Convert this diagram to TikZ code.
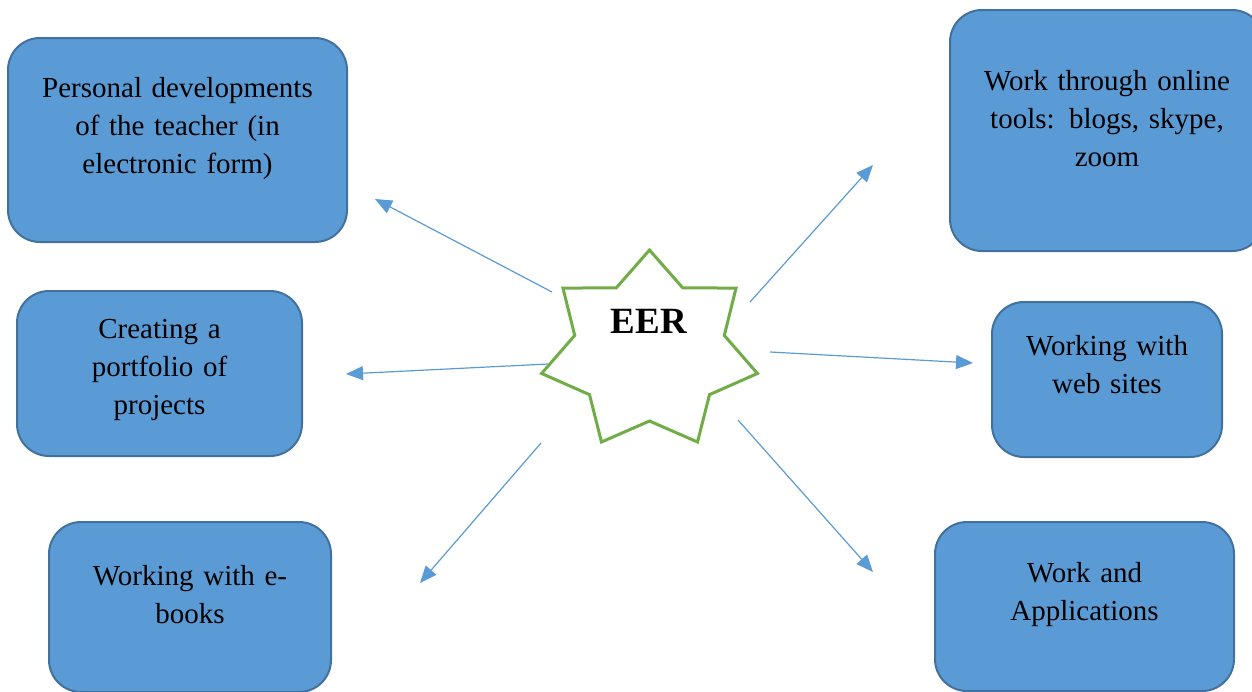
\documentclass[tikz,border=0pt]{standalone}
\usepackage{fontspec}
\setmainfont{Liberation Serif}
\usetikzlibrary{shapes.geometric,arrows.meta,calc}

\definecolor{boxfill}{HTML}{5B9BD5}
\definecolor{boxedge}{HTML}{41719C}
\definecolor{linkblue}{HTML}{5B9BD5}
\definecolor{stargreen}{HTML}{70AD47}

\tikzset{
  topic/.style={draw=boxedge, fill=boxfill, line width=1pt, rounded corners=16pt,
    inner sep=0pt, outer sep=0pt},
  topictext/.style={anchor=base, align=center, text width=170pt, inner sep=0pt,
    font=\fontsize{14.5}{19}\selectfont},
  hubstar/.style={shape=star, star points=7, star point ratio=1.443, minimum size=101pt,
    draw=stargreen, line width=1.5pt, fill=white, inner sep=0pt, xscale=1.096},
  link/.style={draw=linkblue, line width=0.6pt, -{Triangle[length=8.5pt,width=7pt]}}
}

\begin{document}
\begin{tikzpicture}[x=0.5pt, y=-0.5pt]
  \clip (0,0) rectangle (1252,691);
  \useasboundingbox (0,0) rectangle (1252,691);
  %left column
  \node[topic, minimum width=169.5pt, minimum height=102pt] (dev) at (177.5,140) {};
  \node[topic, minimum width=142.5pt, minimum height=82.5pt] (port) at (159.5,373.5) {};
  \node[topic, minimum width=141pt, minimum height=85pt] (ebook) at (190,607) {};
  %right column
  \node[topic, minimum width=157pt, minimum height=120.5pt] (online) at (1107,130.5) {};
  \node[topic, minimum width=115pt, minimum height=77.5pt] (web) at (1107,379.5) {};
  \node[topic, minimum width=149.5pt, minimum height=84.5pt] (apps) at (1084.5,606.5) {};
  %centre
  \node[hubstar] (hub) at (649.5,351) {};
  \node[anchor=base, inner sep=0pt, font=\bfseries\fontsize{18.5}{22}\selectfont] (eer) at (649,333) {EER};
  %texts
  \node[topictext] (devtext) at ($(dev.north)+(0,59)$) {Personal developments\\of the teacher (in\\electronic form)};
  \node[topictext] (porttext) at ($(port.north)+(0,47)$) {Creating a\\portfolio of\\projects};
  \node[topictext] (ebooktext) at ($(ebook.north)+(0,63)$) {Working with e-\\books};
  \node[topictext] (onlinetext) at ($(online.north)+(0,80)$) {Work through online\\tools: blogs, skype,\\zoom};
  \node[topictext] (webtext) at ($(web.north)+(0,53)$) {Working with\\web sites};
  \node[topictext] (appstext) at ($(apps.north)+(0,60)$) {Work and\\Applications};
  %arrow ends
  \coordinate (s1) at (552,292);
  \coordinate (t1) at (375,199);
  \coordinate (s2) at (548,364);
  \coordinate (t2) at (346,374);
  \coordinate (s3) at (541,443);
  \coordinate (t3) at (420,583);
  \coordinate (s4) at (750,302);
  \coordinate (t4) at (873,165);
  \coordinate (s5) at (770,352);
  \coordinate (t5) at (973,363);
  \coordinate (s6) at (738,420);
  \coordinate (t6) at (873,572);
  \foreach \i in {1,...,6}
    \draw[link] (s\i) -- (t\i);
\end{tikzpicture}
\end{document}
